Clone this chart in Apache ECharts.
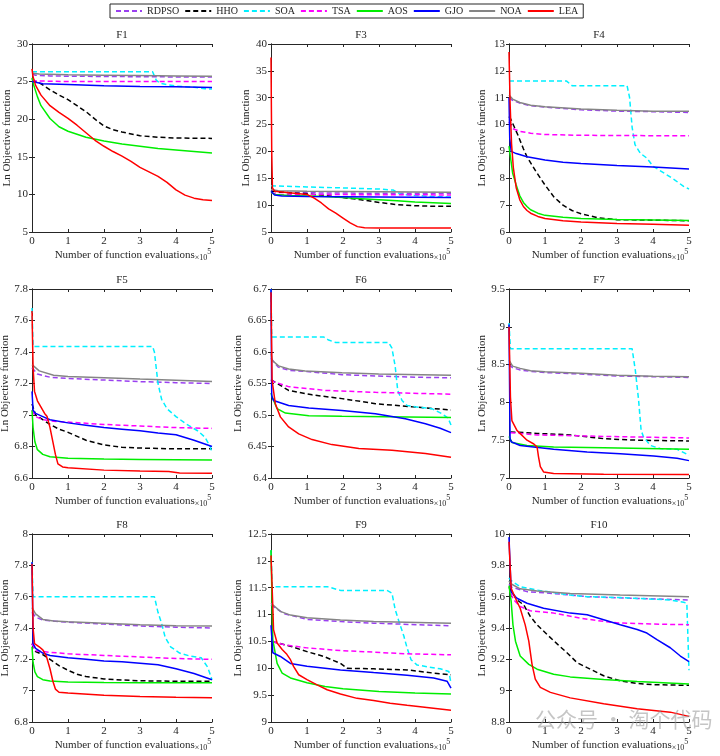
<!DOCTYPE html>
<html>
<head>
<meta charset="utf-8">
<script src="https://cdn.jsdelivr.net/npm/echarts@6/dist/echarts.min.js"></script>
<style>
html,body{margin:0;padding:0;background:#fff;}
#chart{width:720px;height:756px;}
</style>
</head>
<body>
<div id="chart"></div>
<script>
// ---- data (x in units of 1e5 function evaluations, y = ln objective) ----
const seriesNames = ['RDPSO','HHO','SOA','TSA','AOS','GJO','NOA','LEA'];
const xTicks = [0,1,2,3,4,5];

const F1 = {
  RDPSO: [[0,26.0],[0.1,25.85],[0.5,25.75],[1,25.72],[2,25.68],[3,25.65],[4,25.62],[5,25.6]],
  HHO: [[0,25.3],[0.25,24.7],[0.5,23.9],[0.75,23.2],[1,22.6],[1.25,21.8],[1.5,21.0],[1.75,20.0],[2,19.1],[2.25,18.6],[2.5,18.3],[3,17.8],[3.5,17.6],[4,17.5],[5,17.45]],
  SOA: [[0,26.3],[0.05,26.3],[3.35,26.3],[3.45,25.2],[3.55,24.8],[3.75,24.6],[4,24.4],[4.5,24.25],[4.8,24.05],[5,24.0]],
  TSA: [[0,25.3],[0.1,25.1],[0.5,25.05],[1,25.0],[3,25.0],[5,25.0]],
  AOS: [[0,25.5],[0.05,24.5],[0.15,23.0],[0.25,21.8],[0.5,20.1],[0.75,19.0],[1,18.4],[1.25,18.0],[1.5,17.6],[2,17.1],[2.5,16.7],[3,16.4],[3.5,16.1],[4,15.9],[4.5,15.7],[5,15.5]],
  GJO: [[0,25.0],[0.05,24.8],[0.3,24.7],[1,24.6],[2,24.45],[3,24.35],[4,24.3],[5,24.2]],
  NOA: [[0,26.1],[0.2,26.0],[1,25.9],[2,25.85],[3,25.8],[4,25.75],[5,25.7]],
  LEA: [[0,26.7],[0.03,25.6],[0.1,24.5],[0.25,23.2],[0.5,21.8],[0.75,20.9],[1,20.1],[1.25,19.2],[1.5,18.2],[1.75,17.2],[2,16.4],[2.25,15.7],[2.5,15.1],[2.75,14.4],[3,13.6],[3.25,13.0],[3.5,12.4],[3.75,11.6],[4,10.6],[4.25,9.9],[4.5,9.5],[4.75,9.3],[5,9.2]]
};
const F3 = {
  RDPSO: [[0,12.8],[0.2,12.4],[1,12.3],[3,12.2],[5,12.2]],
  HHO: [[0,12.6],[0.5,12.3],[1,12.1],[1.5,11.8],[2,11.4],[2.5,11.0],[3,10.5],[3.5,10.1],[4,9.9],[4.5,9.8],[5,9.8]],
  SOA: [[0,13.6],[0.05,13.5],[1,13.4],[2,13.2],[3,13.0],[3.4,12.8],[3.6,12.0],[4,11.8],[4.5,11.6],[5,11.5]],
  TSA: [[0,12.3],[0.2,12.0],[5,11.9]],
  AOS: [[0,12.4],[0.1,12.0],[0.5,11.8],[1,11.7],[1.5,11.6],[2,11.4],[2.5,11.2],[3,11.0],[3.5,10.8],[4,10.6],[4.5,10.45],[5,10.3]],
  GJO: [[0,12.6],[0.1,11.9],[0.3,11.7],[1,11.6],[3,11.5],[5,11.4]],
  NOA: [[0,12.9],[0.2,12.7],[1,12.6],[3,12.5],[5,12.4]],
  LEA: [[0,37.5],[0.02,20],[0.04,13.2],[0.1,12.6],[0.5,12.3],[1,12.0],[1.2,11.3],[1.4,10.4],[1.6,9.3],[1.8,8.5],[2,7.6],[2.2,6.7],[2.4,6.0],[2.6,5.8],[3,5.75],[5,5.75]]
};
const F4 = {
  RDPSO: [[0,11.0],[0.1,10.9],[0.3,10.8],[0.6,10.7],[1,10.65],[2,10.55],[3,10.5],[4,10.48],[5,10.45]],
  HHO: [[0,10.3],[0.05,10.2],[0.15,9.9],[0.25,9.6],[0.4,9.1],[0.5,8.8],[0.75,8.25],[1,7.75],[1.25,7.3],[1.5,7.0],[1.75,6.8],[2,6.68],[2.5,6.52],[3,6.46],[4,6.44],[5,6.42]],
  SOA: [[0,11.62],[1.6,11.62],[1.75,11.45],[3.28,11.45],[3.35,11.0],[3.42,9.9],[3.5,9.25],[3.65,8.93],[3.83,8.75],[4.0,8.45],[4.3,8.2],[4.57,7.97],[4.85,7.7],[5,7.6]],
  TSA: [[0,10.1],[0.1,9.85],[0.3,9.75],[0.6,9.68],[1,9.63],[2,9.6],[5,9.58]],
  AOS: [[0,9.2],[0.05,8.7],[0.1,8.2],[0.2,7.75],[0.3,7.35],[0.4,7.1],[0.5,6.95],[0.6,6.83],[0.8,6.7],[1,6.62],[1.5,6.55],[2,6.5],[3,6.47],[4,6.45],[5,6.43]],
  GJO: [[0,11.0],[0.02,9.5],[0.06,9.0],[0.2,8.92],[0.5,8.8],[1,8.68],[1.5,8.6],[2,8.55],[3,8.48],[4,8.42],[5,8.35]],
  NOA: [[0,11.1],[0.1,10.95],[0.3,10.82],[0.6,10.72],[1,10.66],[2,10.58],[3,10.53],[4,10.5],[5,10.5]],
  LEA: [[0,12.7],[0.03,10.8],[0.07,9.3],[0.12,8.4],[0.2,7.65],[0.3,7.2],[0.4,6.95],[0.5,6.8],[0.6,6.7],[0.8,6.58],[1,6.5],[1.5,6.42],[2,6.37],[3,6.32],[4,6.29],[5,6.25]]
};
const F5 = {
  RDPSO: [[0,7.3],[0.15,7.26],[0.5,7.24],[1,7.232],[2,7.222],[3,7.212],[4,7.205],[5,7.2]],
  HHO: [[0,7.07],[0.1,7.0],[0.3,6.97],[0.5,6.94],[0.75,6.91],[1,6.89],[1.5,6.84],[2,6.81],[2.5,6.795],[3,6.79],[4,6.785],[5,6.785]],
  SOA: [[0,7.68],[0.03,7.435],[3.35,7.435],[3.4,7.4],[3.45,7.3],[3.5,7.2],[3.6,7.1],[3.75,7.04],[4,6.99],[4.3,6.94],[4.6,6.9],[4.8,6.86],[4.95,6.8],[5,6.76]],
  TSA: [[0,7.03],[0.1,6.99],[0.3,6.97],[0.6,6.96],[1,6.955],[2,6.94],[3,6.93],[4,6.92],[5,6.915]],
  AOS: [[0,7.03],[0.03,6.92],[0.08,6.83],[0.15,6.78],[0.3,6.75],[0.5,6.735],[1,6.725],[2,6.72],[3,6.718],[5,6.715]],
  GJO: [[0,7.15],[0.03,7.03],[0.1,7.01],[0.3,6.99],[0.5,6.97],[1,6.95],[1.5,6.935],[2,6.92],[2.5,6.91],[3,6.9],[3.5,6.885],[4,6.875],[4.5,6.84],[5,6.8]],
  NOA: [[0,7.32],[0.2,7.28],[0.6,7.252],[1,7.245],[2,7.237],[3,7.228],[4,7.22],[5,7.212]],
  LEA: [[0,7.66],[0.03,7.3],[0.07,7.15],[0.15,7.09],[0.25,7.05],[0.35,7.01],[0.42,6.99],[0.5,6.92],[0.58,6.83],[0.65,6.75],[0.72,6.69],[0.85,6.67],[1,6.665],[2,6.65],[3,6.645],[3.8,6.642],[4.1,6.632],[5,6.63]]
};
const F6 = {
  RDPSO: [[0,6.59],[0.07,6.585],[0.2,6.576],[0.49,6.571],[1,6.569],[1.97,6.564],[2.9,6.562],[4,6.56],[5,6.559]],
  HHO: [[0,6.556],[0.03,6.553],[0.49,6.539],[1.14,6.532],[1.97,6.526],[2.9,6.518],[3.92,6.513],[5,6.508]],
  SOA: [[0,6.7],[0.02,6.624],[1.46,6.624],[1.6,6.619],[1.8,6.615],[3.27,6.615],[3.36,6.606],[3.45,6.577],[3.52,6.539],[3.64,6.523],[3.78,6.515],[4.0,6.513],[4.47,6.51],[4.75,6.502],[4.92,6.495],[5,6.484]],
  TSA: [[0,6.556],[0.07,6.553],[0.49,6.545],[1.51,6.539],[2.9,6.536],[5,6.533]],
  AOS: [[0,6.535],[0.03,6.529],[0.17,6.51],[0.4,6.503],[1.05,6.499],[1.97,6.498],[5,6.496]],
  GJO: [[0,6.7],[0.02,6.53],[0.07,6.523],[0.49,6.515],[1.05,6.511],[1.97,6.507],[2.9,6.502],[3.73,6.494],[4.29,6.486],[4.7,6.479],[5,6.472]],
  NOA: [[0,6.598],[0.03,6.587],[0.21,6.578],[0.49,6.573],[0.95,6.57],[1.97,6.567],[2.99,6.565],[5,6.563]],
  LEA: [[0,6.695],[0.03,6.555],[0.12,6.518],[0.26,6.497],[0.49,6.481],[0.77,6.47],[1.14,6.461],[1.69,6.453],[2.44,6.447],[3.36,6.444],[4.29,6.439],[5,6.433]]
};
const F7 = {
  RDPSO: [[0,8.5],[0.1,8.46],[0.3,8.43],[0.6,8.41],[1,8.395],[2,8.375],[3,8.35],[4,8.34],[5,8.33]],
  HHO: [[0.04,7.61],[0.78,7.59],[1.7,7.57],[2.63,7.52],[3.56,7.5],[5,7.49]],
  SOA: [[0,9.05],[0.04,8.71],[3.42,8.71],[3.51,8.42],[3.6,8.03],[3.67,7.63],[3.74,7.54],[3.93,7.43],[4.2,7.39],[4.67,7.38],[5,7.3]],
  TSA: [[0.04,7.6],[0.78,7.57],[2.63,7.55],[5,7.53]],
  AOS: [[0,7.55],[0.08,7.47],[0.5,7.43],[1.24,7.41],[2.63,7.4],[5,7.38]],
  GJO: [[0,9.03],[0.03,7.52],[0.06,7.48],[0.31,7.43],[1.24,7.38],[2.17,7.345],[3.09,7.32],[4.02,7.29],[4.67,7.26],[5,7.23]],
  NOA: [[0,8.56],[0.1,8.48],[0.31,8.45],[0.6,8.42],[1,8.405],[2,8.385],[3,8.36],[4,8.345],[5,8.34]],
  LEA: [[0,9.0],[0.04,8.07],[0.08,7.76],[0.22,7.63],[0.5,7.5],[0.69,7.45],[0.78,7.41],[0.82,7.28],[0.87,7.15],[0.96,7.08],[1.24,7.06],[2.63,7.05],[5,7.045]]
};
const F8 = {
  RDPSO: [[0,7.5],[0.1,7.47],[0.3,7.45],[1,7.437],[2,7.425],[3,7.413],[4,7.405],[5,7.4]],
  HHO: [[0,7.3],[0.1,7.25],[0.3,7.23],[0.5,7.2],[0.75,7.16],[1,7.13],[1.25,7.105],[1.5,7.09],[2,7.075],[2.5,7.068],[3,7.063],[4,7.06],[5,7.06]],
  SOA: [[0,7.82],[0.03,7.6],[3.4,7.6],[3.5,7.5],[3.6,7.43],[3.7,7.34],[3.85,7.28],[4.1,7.24],[4.4,7.22],[4.7,7.21],[4.88,7.15],[5,7.07]],
  TSA: [[0,7.3],[0.1,7.255],[0.3,7.25],[0.5,7.245],[1,7.235],[2,7.225],[3,7.215],[4,7.205],[5,7.2]],
  AOS: [[0,7.28],[0.03,7.18],[0.08,7.12],[0.15,7.09],[0.3,7.07],[0.5,7.062],[1,7.055],[2,7.052],[3,7.05],[5,7.05]],
  GJO: [[0,7.82],[0.03,7.3],[0.1,7.27],[0.3,7.24],[0.5,7.225],[1,7.21],[1.5,7.2],[2,7.19],[2.5,7.185],[3,7.175],[3.5,7.165],[4,7.14],[4.5,7.11],[5,7.07]],
  NOA: [[0,7.53],[0.1,7.49],[0.3,7.455],[0.6,7.445],[1,7.44],[2,7.43],[3,7.42],[4,7.415],[5,7.413]],
  LEA: [[0,7.81],[0.03,7.4],[0.07,7.3],[0.2,7.28],[0.3,7.26],[0.4,7.22],[0.5,7.14],[0.58,7.06],[0.65,7.01],[0.75,6.99],[1,6.985],[2,6.97],[3,6.962],[4,6.958],[5,6.955]]
};
const F9 = {
  RDPSO: [[0,11.18],[0.35,11.02],[1.0,10.91],[1.93,10.87],[2.85,10.84],[5,10.79]],
  HHO: [[0.03,10.5],[0.54,10.41],[1.0,10.31],[1.47,10.22],[1.93,10.09],[2.11,10.0],[2.85,9.99],[3.78,9.97],[4.52,9.91],[5,9.88]],
  SOA: [[0,12.2],[0.03,11.52],[1.56,11.52],[1.93,11.45],[3.22,11.45],[3.36,11.4],[3.45,11.09],[3.57,10.84],[3.69,10.6],[3.78,10.38],[3.89,10.16],[4.06,10.06],[4.33,10.03],[4.7,9.99],[4.94,9.94],[5,9.72]],
  TSA: [[0.03,10.5],[0.35,10.44],[1.0,10.38],[1.93,10.33],[2.85,10.3],[3.78,10.27],[5,10.25]],
  AOS: [[0,12.2],[0.05,10.53],[0.17,10.09],[0.31,9.91],[0.54,9.82],[1.0,9.73],[1.5,9.66],[2,9.62],[3,9.57],[4,9.54],[5,9.52]],
  GJO: [[0,10.8],[0.05,10.29],[0.26,10.22],[0.54,10.09],[1.0,10.04],[1.93,9.97],[2.85,9.92],[3.78,9.87],[4.52,9.82],[4.89,9.76],[5,9.63]],
  NOA: [[0,11.21],[0.26,11.06],[0.54,10.99],[1.0,10.94],[1.93,10.9],[2.85,10.87],[5,10.84]],
  LEA: [[0,12.1],[0.05,11.15],[0.07,10.72],[0.17,10.47],[0.31,10.35],[0.44,10.26],[0.54,10.16],[0.63,10.03],[0.77,9.88],[1.0,9.79],[1.28,9.69],[1.56,9.6],[1.93,9.52],[2.39,9.44],[2.85,9.4],[3.31,9.35],[3.78,9.31],[4.33,9.27],[5,9.22]]
};
const F10 = {
  RDPSO: [[0,9.68],[0.08,9.66],[0.5,9.632],[1.24,9.62],[2.17,9.6],[3.56,9.589],[5,9.579]],
  HHO: [[0,9.66],[0.02,9.653],[0.22,9.58],[0.41,9.547],[0.59,9.474],[0.78,9.42],[1.06,9.358],[1.33,9.3],[1.61,9.242],[1.89,9.179],[2.17,9.147],[2.63,9.095],[3.09,9.063],[3.56,9.046],[4.02,9.038],[5,9.034]],
  SOA: [[0,9.72],[0.04,9.705],[0.31,9.663],[0.78,9.642],[1.7,9.61],[2.17,9.6],[3.09,9.594],[4.48,9.579],[4.85,9.564],[4.94,9.558],[5,9.13]],
  TSA: [[0.05,9.62],[0.13,9.58],[0.31,9.537],[0.59,9.51],[1.24,9.495],[1.98,9.463],[2.63,9.442],[3.09,9.432],[4.02,9.425],[5,9.421]],
  AOS: [[0,9.67],[0.06,9.57],[0.11,9.42],[0.18,9.316],[0.31,9.221],[0.55,9.168],[0.78,9.137],[1.24,9.105],[1.7,9.088],[2.63,9.072],[3.56,9.059],[5,9.042]],
  GJO: [[0,9.98],[0.06,9.63],[0.22,9.59],[0.5,9.558],[0.96,9.526],[1.7,9.495],[2.17,9.484],[2.63,9.453],[3.09,9.421],[3.56,9.39],[3.83,9.368],[4.11,9.326],[4.48,9.274],[4.76,9.221],[5,9.185]],
  NOA: [[0,9.7],[0.04,9.684],[0.31,9.65],[0.78,9.636],[1.7,9.62],[3.09,9.61],[5,9.6]],
  LEA: [[0,9.95],[0.06,9.653],[0.18,9.59],[0.31,9.526],[0.45,9.42],[0.55,9.316],[0.64,9.168],[0.73,9.074],[0.87,9.021],[1.15,8.989],[1.7,8.954],[2.63,8.916],[3.56,8.884],[4.48,8.863],[5,8.836]]
};

const panelTitles = ['F1','F3','F4','F5','F6','F7','F8','F9','F10'];
const panelData = [F1, F3, F4, F5, F6, F7, F8, F9, F10];
const yMin = [5, 5, 6, 6.6, 6.4, 7, 6.8, 9, 8.8];
const yMax = [30, 40, 13, 7.8, 6.7, 9.5, 8, 12.5, 10];
const yStep = [5, 5, 1, 0.2, 0.05, 0.5, 0.2, 0.5, 0.2];

// ---- styles ----
const colors = {RDPSO:'#9a40f0', HHO:'#000000', SOA:'#00f0ff', TSA:'#ff00ff', AOS:'#00ee00', GJO:'#0000ff', NOA:'#858585', LEA:'#ff0000'};
const dashed = {RDPSO:true, HHO:true, SOA:true, TSA:true, AOS:false, GJO:false, NOA:false, LEA:false};
const FONT = '"Liberation Serif", "Times New Roman", serif';
const AX = '#262626';
const colLeft = [32, 271, 509];
const rowTop = [44, 289, 534];
const rowH = [188, 189, 188];
const yNameGap = [19, 18, 21, 20, 26, 21, 20, 26, 21];

const grids = [], xAxes = [], yAxes = [], series = [];
panelTitles.forEach((t, i) => {
  const r = Math.floor(i / 3), c = i % 3;
  grids.push({left: colLeft[c], top: rowTop[r], width: 180, height: rowH[r], containLabel: false, outerBoundsMode: 'none'});
  const line = {show: true, lineStyle: {color: AX, width: 1}};
  const tick = {show: true, inside: true, length: 3, lineStyle: {color: AX, width: 1}};
  xAxes.push({
    type: 'value', gridIndex: i, position: 'bottom', min: xTicks[0], max: xTicks[xTicks.length-1], interval: 1,
    axisLine: line, axisTick: tick, splitLine: {show: false},
    axisLabel: {fontFamily: FONT, fontSize: 11, color: AX, margin: 4},
    name: 'Number of function evaluations{m|×10}{s|5}', nameLocation: 'middle', nameGap: 16,
    nameTextStyle: {fontFamily: FONT, fontSize: 11, color: AX, lineHeight: 14,
      padding: [0, 0, 0, 22],
      rich: {m: {fontFamily: FONT, fontSize: 8, color: AX, verticalAlign: 'bottom', lineHeight: 14},
             s: {fontFamily: FONT, fontSize: 8, color: AX, verticalAlign: 'top', lineHeight: 14}}}
  });
  xAxes.push({
    type: 'value', gridIndex: i, position: 'top', min: 0, max: 5, interval: 1,
    axisLine: line, axisTick: tick, axisLabel: {show: false}, splitLine: {show: false},
    name: t, nameLocation: 'middle', nameGap: 3,
    nameTextStyle: {fontFamily: FONT, fontSize: 11, color: AX}
  });
  yAxes.push({
    type: 'value', gridIndex: i, position: 'left', min: yMin[i], max: yMax[i], interval: yStep[i],
    axisLine: line, axisTick: tick, splitLine: {show: false},
    axisLabel: {fontFamily: FONT, fontSize: 11, color: AX, margin: 4},
    name: 'Ln Objective function', nameLocation: 'middle', nameGap: yNameGap[i],
    nameTextStyle: {fontFamily: FONT, fontSize: 11, color: AX}
  });
  yAxes.push({
    type: 'value', gridIndex: i, position: 'right', min: yMin[i], max: yMax[i], interval: yStep[i],
    axisLine: line, axisTick: tick, axisLabel: {show: false}, splitLine: {show: false}
  });
  seriesNames.forEach((n, k) => {
    series.push({
      name: n, type: 'line', xAxisIndex: 2*i, yAxisIndex: 2*i,
      data: panelData[i][n], symbol: 'none', showSymbol: false, clip: true,
      z: 2 + k,
      itemStyle: {color: colors[n]},
      lineStyle: {color: colors[n], width: 1.5, type: dashed[n] ? [5, 3] : 'solid'},
      emphasis: {disabled: true}
    });
  });
});

const chart = echarts.init(document.getElementById('chart'), null, {renderer: 'canvas'});
chart.setOption({
  animation: false,
  backgroundColor: '#ffffff',
  legend: {
    data: seriesNames, top: 4, left: 110, orient: 'horizontal',
    itemWidth: 26, itemHeight: 8, itemGap: 5,
    borderColor: '#262626', borderWidth: 1, padding: [2, 5], backgroundColor: '#fff',
    itemStyle: {opacity: 0},
    textStyle: {fontFamily: FONT, fontSize: 10, color: AX}
  },
  grid: grids, xAxis: xAxes, yAxis: yAxes, series: series,
  graphic: [{
    type: 'text', left: 535, top: 709, silent: true, z: 100,
    style: {text: '公众号 · 淘个代码', fontFamily: '"Noto Sans CJK SC", sans-serif', fontSize: 21,
      fill: 'rgba(150,150,150,0.55)'}
  }]
});
</script>
</body>
</html>
